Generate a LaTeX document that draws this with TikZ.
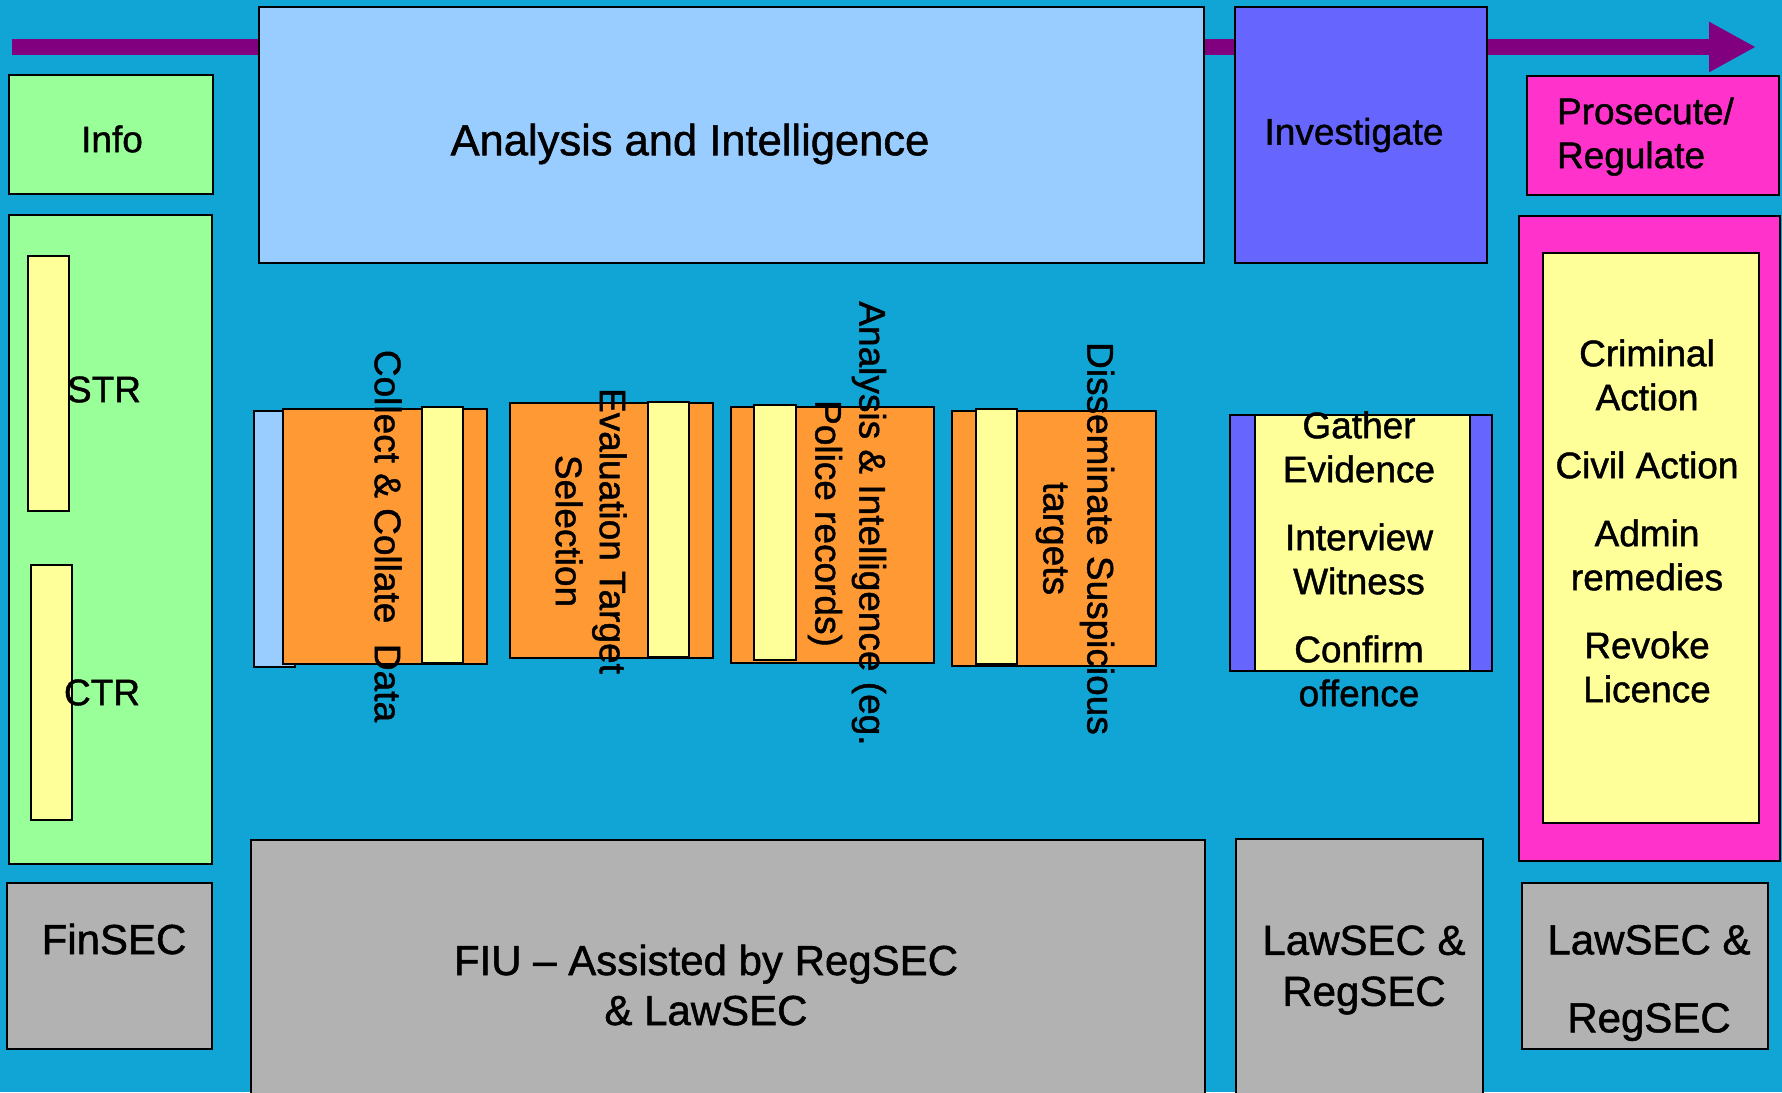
\documentclass[tikz,border=0pt]{standalone}
\usepackage{fontspec}
\setmainfont{Liberation Sans}[FakeBold=1.2]
\usetikzlibrary{arrows.meta}
\definecolor{bgblue}{RGB}{17,165,214}
\definecolor{flowpurple}{RGB}{128,0,128}
\definecolor{lgreen}{RGB}{153,255,153}
\definecolor{lblue}{RGB}{153,204,255}
\definecolor{invblue}{RGB}{102,102,255}
\definecolor{hotpink}{RGB}{255,51,204}
\definecolor{lyellow}{RGB}{255,255,153}
\definecolor{orng}{RGB}{255,153,51}
\definecolor{lgray}{RGB}{178,178,178}
\newcommand\mybox[6]{%
  \node[#1, minimum width={(#5-#3)*1pt}, minimum height={(#6-#4)*1pt}] (#2) at ({(#3+#5)/2},{(#4+#6)/2}) {};}
\begin{document}
\begin{tikzpicture}[x=1pt,y=-1pt,
  box/.style={draw=black, line width=1.6pt, inner sep=0pt, outer sep=0pt, rectangle},
  greenbox/.style={box, fill=lgreen},
  bluebox/.style={box, fill=lblue},
  invbox/.style={box, fill=invblue},
  pinkbox/.style={box, fill=hotpink},
  yelbox/.style={box, fill=lyellow},
  orbox/.style={box, fill=orng},
  graybox/.style={box, fill=lgray},
  txt/.style={inner sep=0pt, outer sep=0pt, align=center, text=black, font=\fontsize{37}{44}\selectfont},
  bigtxt/.style={txt, font=\fontsize{43.5}{52}\selectfont},
  sectxt/.style={txt, font=\fontsize{42}{50}\selectfont}]
\useasboundingbox (0,0) rectangle (1782,1092);
\clip (0,0) rectangle (1782,1092);
\fill[bgblue] (0,0) rectangle (1782,1092);
% flow arrow
\coordinate (arrS) at (12,47);
\coordinate (arrE) at (1756,47);
\draw[flowpurple, line width=16pt, -{Triangle[length=47pt,width=47pt]}] (arrS) -- (arrE);
% top row
\mybox{greenbox}{info}{9}{75}{213}{194}
\mybox{bluebox}{analysis}{259}{7}{1204}{263}
\mybox{invbox}{investigate}{1235}{7}{1487}{263}
\mybox{pinkbox}{prosecute}{1527}{76}{1779}{195}
% left column
\mybox{greenbox}{reports}{9}{215}{212}{864}
\mybox{yelbox}{strbar}{28}{256}{69}{511}
\mybox{yelbox}{ctrbar}{31}{565}{72}{820}
% middle steps
\mybox{bluebox}{back1}{254}{411}{295}{667}
\mybox{orbox}{step1}{283}{409}{487}{664}
\mybox{yelbox}{bar1}{422}{407}{463}{663}
\mybox{orbox}{step2}{510}{403}{713}{658}
\mybox{yelbox}{bar2}{648}{402}{689}{657}
\mybox{orbox}{step3}{731}{407}{934}{663}
\mybox{yelbox}{bar3}{754}{405}{796}{660}
\mybox{orbox}{step4}{952}{411}{1156}{666}
\mybox{yelbox}{bar4}{976}{409}{1017}{664}
% investigate detail
\mybox{invbox}{gatherout}{1230}{415}{1492}{671}
\mybox{yelbox}{gatherin}{1255}{415}{1470}{671}
% prosecute detail
\mybox{pinkbox}{actionsout}{1519}{216}{1780}{861}
\mybox{yelbox}{actionsin}{1543}{253}{1759}{823}
% bottom row
\mybox{graybox}{finsec}{7}{883}{212}{1049}
\mybox{graybox}{fiu}{251}{840}{1205}{1110}
\mybox{graybox}{lawsec1}{1236}{839}{1483}{1110}
\mybox{graybox}{lawsec2}{1522}{883}{1768}{1049}
% texts
\node[txt] (tinfo) at (112,139) {Info};
\node[bigtxt] (tanalysis) at (690,144) {Analysis and Intelligence};
\node[txt] (tinv) at (1354,135) {Investigate};
\node[txt, align=left, anchor=west] (tpros) at (1557,136.5) {Prosecute/\\Regulate};
\node[txt, anchor=west] (tstr) at (67,389.5) {STR};
\node[txt, anchor=west] (tctr) at (64,692.5) {CTR};
\node[txt, rotate=-90] (tstep1) at (388,536) {Collect \& Collate~~Data};
\node[txt, rotate=-90] (tstep2) at (591,531) {Evaluation Target\\Selection};
\node[txt, rotate=-90] (tstep3) at (847,523.5) {Analysis \& Intelligence (eg.\\Police records)};
\node[txt, rotate=-90] (tstep4) at (1075,538.5) {Disseminate Suspicious\\targets};
\node[txt] (tgather) at (1359,559) {Gather\\Evidence\\[24pt]Interview\\Witness\\[24pt]Confirm\\offence};
\node[txt] (tactions) at (1647,521) {Criminal\\Action\\[24pt]Civil Action\\[24pt]Admin\\remedies\\[24pt]Revoke\\Licence};
\node[sectxt] (tfinsec) at (114,939) {FinSEC};
\node[sectxt] (tfiu) at (706,985) {FIU – Assisted by RegSEC\\\& LawSEC};
\node[sectxt, font=\fontsize{42}{51}\selectfont] (tlaw1) at (1364,970) {LawSEC \&\\RegSEC};
\node[sectxt, font=\fontsize{42}{78}\selectfont] (tlaw2) at (1649,983) {LawSEC \&\\RegSEC};
\end{tikzpicture}
\end{document}
